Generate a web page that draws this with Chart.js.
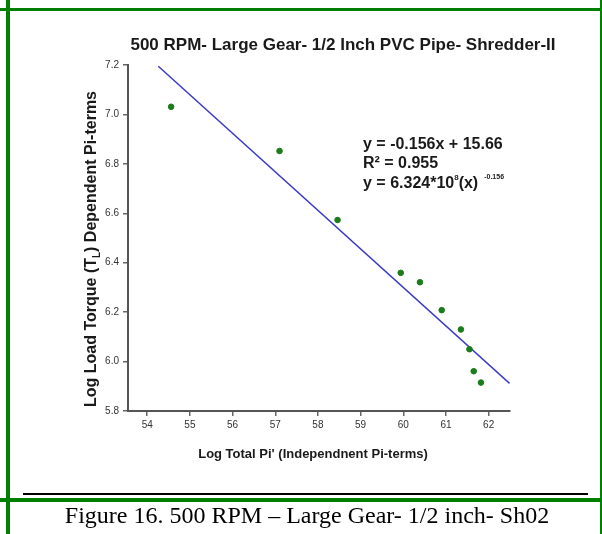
<!DOCTYPE html>
<html>
<head>
<meta charset="utf-8">
<script src="https://cdn.jsdelivr.net/npm/chart.js@4.4.1/dist/chart.umd.min.js"></script>
<style>
  body { margin: 0; background: #fff; }
  #page { position: relative; width: 602px; height: 534px; overflow: hidden; background: #fff; }
  #wrap { position: absolute; left: 0; top: 12px; width: 602px; height: 478px; }
  .green { position: absolute; background: #008000; }
  .black { position: absolute; background: #000; }
  #caption {
    position: absolute; left: 6px; width: 602px; top: 502px; text-align: center;
    font-family: "Liberation Serif", "Times New Roman", serif; font-size: 24px; color: #000;
  }
</style>
</head>
<body>
<div id="page">
  <div id="wrap"><canvas id="chart" width="602" height="478"></canvas></div>
  <div class="green" style="left:6px;top:0;width:4px;height:534px"></div>
  <div class="green" style="left:0;top:8px;width:602px;height:3px"></div>
  <div class="green" style="left:600px;top:0;width:2px;height:534px"></div>
  <div class="black" style="left:23px;top:493px;width:565px;height:2px"></div>
  <div class="green" style="left:0;top:498px;width:602px;height:4px"></div>
  <div id="caption">Figure 16. 500 RPM – Large Gear- 1/2 inch- Sh02</div>
</div>
<script>
const xValues = [54.56, 57.10, 58.46, 59.94, 60.39, 60.90, 61.35, 61.55, 61.65, 61.82]
const yValues = [7.031, 6.852, 6.573, 6.359, 6.321, 6.208, 6.130, 6.050, 5.961, 5.915]
const trendX = [54.26, 62.49]
const trendY = [7.195, 5.912]
const xTicks = [54, 55, 56, 57, 58, 59, 60, 61, 62]
const yTicks = [5.8, 6.0, 6.2, 6.4, 6.6, 6.8, 7.0, 7.2]

const titleText = '500 RPM- Large Gear- 1/2 Inch PVC Pipe- Shredder-II'
const xTitle = "Log Total Pi' (Independnent Pi-terms)"
const yTitleParts = ['Log Load Torque (T', 'L', ') Dependent Pi-terms']
const eqLine1 = 'y = -0.156x + 15.66'
const eqLine2 = 'R² = 0.955'
const eqLine3 = ['y = 6.324*10', '8', '(x)', '-0.156']

const FONT = '"Liberation Sans", Arial, sans-serif'

// draws a row of [text, font, dy, gap] pieces
function drawRow(ctx, pieces, x, y, align) {
  ctx.save()
  ctx.translate(x, y)
  let total = 0
  const widths = pieces.map(p => {
    ctx.font = p[1]
    const w = ctx.measureText(p[0]).width + (p[3] || 0)
    total += w
    return w
  })
  let px = align === 'center' ? -total / 2 : 0
  ctx.textAlign = 'left'
  pieces.forEach((p, i) => {
    ctx.font = p[1]
    ctx.fillText(p[0], px + (p[3] || 0), p[2])
    px += widths[i]
  })
  ctx.restore()
}

const textPlugin = {
  id: 'textPlugin',
  afterDraw(chart) {
    const ctx = chart.ctx
    ctx.save()
    ctx.fillStyle = '#1a1a1a'
    ctx.textBaseline = 'alphabetic'

    const b16 = `bold 16px ${FONT}`

    drawRow(ctx, [[titleText, `bold 17px ${FONT}`, 0]], 343, 38, 'center')
    drawRow(ctx, [[xTitle, `bold 13px ${FONT}`, 0]], 313, 446, 'center')

    // y axis title, rotated, with subscript
    ctx.save()
    ctx.translate(96, 237)
    ctx.rotate(-Math.PI / 2)
    drawRow(ctx, [
      [yTitleParts[0], b16, 0],
      [yTitleParts[1], `bold 10px ${FONT}`, 4],
      [yTitleParts[2], b16, 0]
    ], 0, 0, 'center')
    ctx.restore()

    // regression equations
    drawRow(ctx, [[eqLine1, b16, 0]], 363, 137, 'left')
    drawRow(ctx, [[eqLine2, b16, 0]], 363, 156, 'left')
    drawRow(ctx, [
      [eqLine3[0], b16, 0],
      [eqLine3[1], `bold 8px ${FONT}`, -8],
      [eqLine3[2], b16, 0],
      [eqLine3[3], `bold 7px ${FONT}`, -9, 6]
    ], 363, 176, 'left')
    ctx.restore()
  }
}

const axisStyle = {
  border: { color: '#555', width: 2 },
  grid: { drawOnChartArea: false, color: '#666', lineWidth: 1.5, tickLength: 5 }
}

new Chart(document.getElementById('chart'), {
  type: 'scatter',
  data: {
    datasets: [{
      data: xValues.map((x, i) => ({ x, y: yValues[i] })),
      backgroundColor: '#1b7c1b',
      borderColor: '#1b7c1b',
      pointRadius: 2.8
    }, {
      type: 'line',
      data: trendX.map((x, i) => ({ x, y: trendY[i] })),
      borderColor: '#3a3ac6',
      borderWidth: 1.5,
      pointRadius: 0,
      fill: false
    }]
  },
  options: {
    responsive: false,
    animation: false,
    devicePixelRatio: 1,
    layout: { padding: { top: 53, right: 92, left: 0, bottom: 0 } },
    plugins: { legend: { display: false }, tooltip: { enabled: false }, title: { display: false } },
    scales: {
      x: {
        type: 'linear',
        min: 53.55,
        max: 62.5,
        ...axisStyle,
        afterBuildTicks: s => { s.ticks = xTicks.map(v => ({ value: v })) },
        afterFit: s => { s.height = 79 },
        ticks: { font: { size: 10, family: FONT }, color: '#333', padding: 3, maxRotation: 0 }
      },
      y: {
        type: 'linear',
        min: 5.8,
        max: 7.2,
        ...axisStyle,
        afterBuildTicks: s => { s.ticks = yTicks.map(v => ({ value: v })) },
        afterFit: s => { s.width = 128 },
        ticks: { font: { size: 10, family: FONT }, color: '#333', padding: 4, callback: v => v.toFixed(1) }
      }
    }
  },
  plugins: [textPlugin]
})
</script>
</body>
</html>
